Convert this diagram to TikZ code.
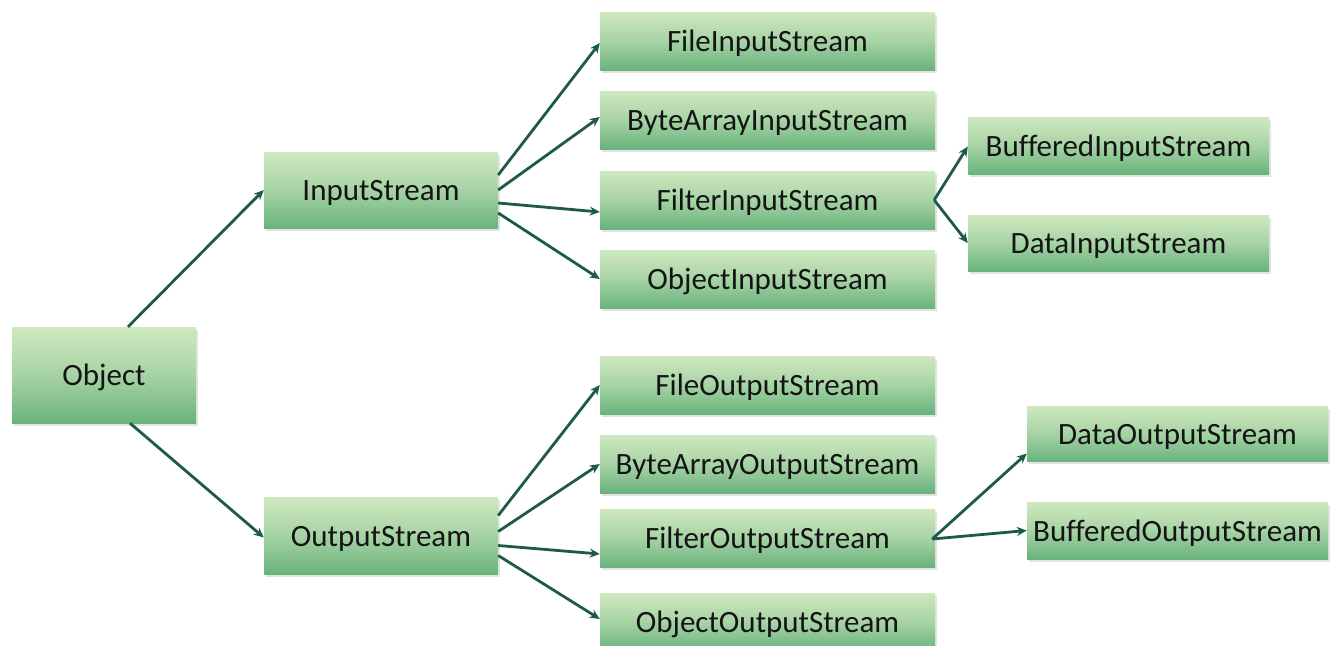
\documentclass[tikz,border=0pt]{standalone}
\usepackage{fontspec}
\setmainfont[Ligatures=CommonOff]{Carlito}
\usetikzlibrary{arrows.meta,shadows}
\definecolor{boxtop}{HTML}{CFE8BF}
\definecolor{boxbot}{HTML}{69B37D}
\definecolor{arr}{HTML}{1E5A48}
\definecolor{txt}{HTML}{141414}
\begin{document}
\begin{tikzpicture}[x=1pt,y=-1pt,
  box/.style={draw=none, top color=boxtop, bottom color=boxbot, middle color=boxtop!60!boxbot,
    drop shadow={shadow xshift=2pt, shadow yshift=-2.5pt, opacity=0.22, fill=black!50},
    inner sep=0pt, text height=22pt, text depth=1pt,
    font=\fontsize{31}{34}\selectfont, text=txt},
  kid/.style={box, minimum width=335pt, minimum height=58pt},
  kid2/.style={box, minimum width=301pt, minimum height=57pt},
  link/.style={draw=arr, line width=2.8pt, -{Stealth[length=10pt,width=9pt]}}]
\useasboundingbox (0,0) rectangle (1330,645);
\fill[white] (0,0) rectangle (1330,645);
% nodes
\node[box, minimum width=184pt, minimum height=96pt] (obj) at (104,375) {Object};
\node[box, minimum width=234pt, minimum height=76pt] (ins) at (381,190) {InputStream};
\node[box, minimum width=234pt, minimum height=77pt] (outs) at (381,535.5) {OutputStream};
\node[kid] (fis) at (767.5,41) {FileInputStream};
\node[kid] (bais) at (767.5,120) {ByteArrayInputStream};
\node[kid] (filis) at (767.5,200) {FilterInputStream};
\node[kid] (ois) at (767.5,279) {ObjectInputStream};
\node[kid] (fos) at (767.5,385) {FileOutputStream};
\node[kid] (baos) at (767.5,464) {ByteArrayOutputStream};
\node[kid] (filos) at (767.5,538) {FilterOutputStream};
\node[kid] (oos) at (767.5,622) {ObjectOutputStream};
\node[kid2] (bis) at (1118.5,145.5) {BufferedInputStream};
\node[kid2, minimum height=56pt] (dis) at (1118.5,243) {DataInputStream};
\node[kid2, minimum height=55pt] (dos) at (1177.5,433.5) {DataOutputStream};
\node[kid2] (bos) at (1177.5,530.5) {BufferedOutputStream};
% connectors
\draw[link] ([xshift=24pt]obj.north) -- (ins.west);
\draw[link] ([xshift=26pt]obj.south) -- ([yshift=-2pt]outs.west);
\draw[link] ([yshift=15pt]ins.east) -- ([yshift=-2pt]fis.west);
\draw[link] (ins.east) -- ([yshift=3pt]bais.west);
\draw[link] ([yshift=-13pt]ins.east) -- ([yshift=-12pt]filis.west);
\draw[link] ([yshift=-23pt]ins.east) -- (ois.west);
\draw[link] ([yshift=20pt]outs.east) -- (fos.west);
\draw[link] ([yshift=4pt]outs.east) -- (baos.west);
\draw[link] ([yshift=-10pt]outs.east) -- ([yshift=-16pt]filos.west);
\draw[link] ([yshift=-20pt]outs.east) -- ([yshift=3pt]oos.west);
\draw[link] ([xshift=-1pt]filis.east) -- ([yshift=-1pt]bis.west);
\draw[link] ([xshift=-1pt]filis.east) -- (dis.west);
\draw[link] ([xshift=-3pt,yshift=-1pt]filos.east) -- ([yshift=-20pt]dos.west);
\draw[link] ([xshift=-3pt,yshift=-1pt]filos.east) -- (bos.west);
\end{tikzpicture}
\end{document}
